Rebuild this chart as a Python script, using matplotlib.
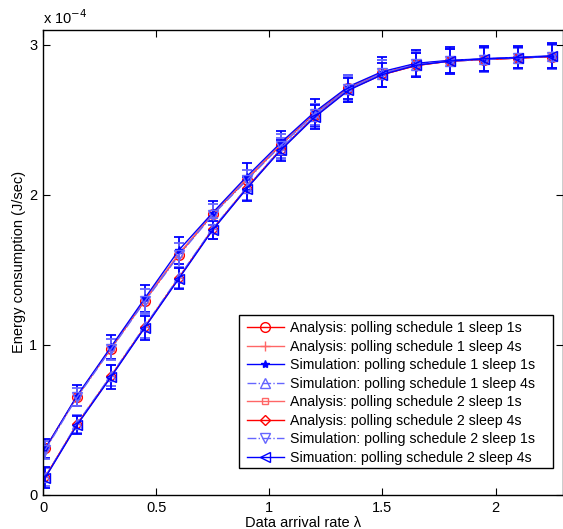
import numpy as np
import matplotlib.pyplot as plt
from matplotlib.patches import Rectangle

# data arrival rate
lam = [0.01, 0.15, 0.3, 0.45, 0.6, 0.75, 0.9, 1.05, 1.2, 1.35, 1.5, 1.65, 1.8, 1.95, 2.1, 2.25]

# energy consumption, units of 1e-4 J/sec
ana_s1_1 = [0.31, 0.655, 0.975, 1.295, 1.60, 1.870, 2.100, 2.330, 2.540, 2.710, 2.810, 2.870, 2.890, 2.900, 2.910, 2.920]
ana_s1_4 = [0.12, 0.470, 0.790, 1.120, 1.445, 1.770, 2.040, 2.300, 2.520, 2.700, 2.800, 2.860, 2.890, 2.900, 2.910, 2.920]
sim_s1_1 = [0.31, 0.660, 0.985, 1.310, 1.630, 1.880, 2.120, 2.345, 2.550, 2.720, 2.820, 2.875, 2.895, 2.905, 2.915, 2.925]
sim_s1_4 = [0.12, 0.475, 0.795, 1.125, 1.450, 1.775, 2.045, 2.305, 2.525, 2.705, 2.805, 2.865, 2.890, 2.905, 2.912, 2.922]
ana_s2_1 = [0.31, 0.655, 0.980, 1.300, 1.605, 1.875, 2.105, 2.335, 2.545, 2.715, 2.815, 2.872, 2.892, 2.902, 2.912, 2.922]
ana_s2_4 = [0.12, 0.470, 0.790, 1.120, 1.445, 1.770, 2.045, 2.300, 2.520, 2.700, 2.800, 2.860, 2.890, 2.900, 2.910, 2.920]
sim_s2_1 = [0.30, 0.650, 0.970, 1.290, 1.595, 1.865, 2.095, 2.325, 2.535, 2.705, 2.810, 2.868, 2.888, 2.900, 2.910, 2.920]
sim_s2_4 = [0.115, 0.465, 0.785, 1.115, 1.440, 1.765, 2.040, 2.295, 2.515, 2.695, 2.800, 2.862, 2.890, 2.905, 2.912, 2.922]

# simulation error bars (half width)
err_s1_1 = [0.065, 0.07, 0.08, 0.09, 0.09, 0.08, 0.09, 0.08, 0.09, 0.08, 0.10, 0.087, 0.09, 0.088, 0.074, 0.085]
err_s1_4 = [0.06, 0.06, 0.07, 0.08, 0.07, 0.07, 0.08, 0.07, 0.08, 0.09, 0.09, 0.08, 0.08, 0.08, 0.07, 0.08]
err_s2_1 = [0.06, 0.06, 0.07, 0.08, 0.08, 0.07, 0.07, 0.08, 0.07, 0.08, 0.09, 0.08, 0.08, 0.08, 0.07, 0.08]
err_s2_4 = [0.07, 0.06, 0.08, 0.08, 0.07, 0.06, 0.08, 0.07, 0.08, 0.08, 0.08, 0.08, 0.08, 0.08, 0.07, 0.08]

labels = ["Analysis: polling schedule 1 sleep 1s",
          "Analysis: polling schedule 1 sleep 4s",
          "Simulation: polling schedule 1 sleep 1s",
          "Simulation: polling schedule 1 sleep 4s",
          "Analysis: polling schedule 2 sleep 1s",
          "Analysis: polling schedule 2 sleep 4s",
          "Simulation: polling schedule 2 sleep 1s",
          "Simuation: polling schedule 2 sleep 4s"]

plt.rcParams['font.family'] = ['Liberation Sans', 'DejaVu Sans']

W, H = 563, 529
fig = plt.figure(figsize=(W / 100, H / 100), dpi=100)
ax = fig.add_axes([43 / W, 34 / H, 520.4 / W, 465.5 / H])

red = (1, 0, 0)
pink = (1, 0.4, 0.4)
blue = (0, 0, 1)
lblue = (0.4, 0.4, 1)
ms = 6
ebk = dict(elinewidth=1.3, capsize=3.3, capthick=1.3)

h = []
h += ax.plot(lam, ana_s1_1, '-', color=red, marker='o', ms=ms + 1, mfc='none', lw=1)
h += ax.plot(lam, ana_s1_4, '-', color=pink, marker='+', ms=ms + 1, lw=1)
h.append(ax.errorbar(lam, sim_s1_1, yerr=err_s1_1, fmt='-', color=blue, marker='*', ms=ms, lw=1, **ebk)[0])
h.append(ax.errorbar(lam, sim_s1_4, yerr=err_s1_4, fmt='-.', color=lblue, marker='^', ms=ms + 1, mfc='none',
                     lw=1, **ebk)[0])
h += ax.plot(lam, ana_s2_1, '-', color=pink, marker='s', ms=ms - 1, mfc='none', lw=1)
h += ax.plot(lam, ana_s2_4, '-', color=red, marker='D', ms=ms - 1, mfc='none', lw=1)
h.append(ax.errorbar(lam, sim_s2_1, yerr=err_s2_1, fmt='-.', color=lblue, marker='v', ms=ms + 1, mfc='none',
                     lw=1, **ebk)[0])
h.append(ax.errorbar(lam, sim_s2_4, yerr=err_s2_4, fmt='-', color=blue, marker='<', ms=ms + 1, mfc='none',
                     lw=1, **ebk)[0])

ax.set_xlim(0, 2.3)
ax.set_ylim(0, 3.1)
ax.set_xticks([0, 0.5, 1, 1.5, 2])
ax.set_xticklabels(['0', '0.5', '1', '1.5', '2'])
ax.set_yticks([0, 1, 2, 3])
ax.tick_params(direction='in', top=True, right=True, length=5, width=0.8, labelsize=10.5, pad=4)
for s in ax.spines.values():
    s.set_linewidth(1.0)

ax.set_xlabel('Data arrival rate λ', fontsize=10.5, labelpad=1)
ax.set_ylabel('Energy consumption (J/sec)', fontsize=10.5, labelpad=2)
ax.text(0.0, 1.005, 'x 10$^{-4}$', transform=ax.transAxes, fontsize=10.5, va='bottom', ha='left')

# legend box drawn separately (MATLAB style padding)
box = Rectangle((239 / W, 1 - 468 / H), (553 - 239) / W, (468 - 315) / H, transform=fig.transFigure,
                facecolor='white', edgecolor='k', lw=1.0, zorder=4, clip_on=False)
ax.add_artist(box)
leg = ax.legend(h, labels, loc='upper left', bbox_to_anchor=(247 / W, 1 - 321 / H),
                bbox_transform=fig.transFigure, fontsize=10.2, frameon=False,
                handlelength=2.6, handletextpad=0.42, labelspacing=0.32, borderpad=0, borderaxespad=0)
leg.set_zorder(5)

fig.savefig('out.png', dpi=100)
